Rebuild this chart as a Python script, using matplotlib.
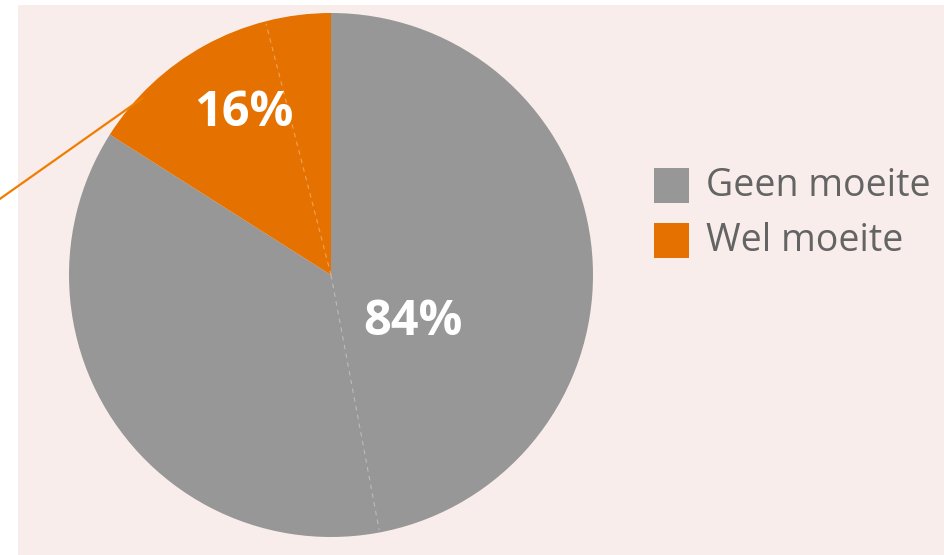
import matplotlib
matplotlib.use("Agg")
import matplotlib.pyplot as plt
from matplotlib.patches import Rectangle
import numpy as np

categories = ["Geen moeite", "Wel moeite"]
values = [84, 16]
labels = ["84%", "16%"]
colors = ["#979797", "#e57200"]

W, H = 945, 555
fig = plt.figure(figsize=(W / 100, H / 100), dpi=100)
fig.patch.set_facecolor("white")

# background panel
fig.add_artist(Rectangle((18 / W, 0), 1 - 18 / W, (H - 5) / H,
                         transform=fig.transFigure, facecolor="#f8edeb",
                         edgecolor="none", zorder=0))

cx, cy, r = 331, 275, 262
ax = fig.add_axes([(cx - r) / W, (H - cy - r) / H, 2 * r / W, 2 * r / H])
ax.patch.set_alpha(0)

wedges, _ = ax.pie(values, colors=colors, startangle=90, counterclock=False,
                   radius=1, center=(0, 0), frame=True,
                   wedgeprops=dict(linewidth=0))
ax.set_xlim(-1, 1)
ax.set_ylim(-1, 1)
ax.set_aspect("equal")
ax.axis("off")

# faint dashed seams
for ang in (104.5, 280.7):
    a = np.deg2rad(ang)
    ax.plot([0, 0.99 * np.cos(a)], [0, 0.99 * np.sin(a)], color="white",
            alpha=0.35, lw=0.8, ls=(0, (4, 4)))

# percentage labels
ax.text(0.313, -0.18, labels[0], color="white", fontsize=35,
        fontweight="bold", family="Open Sans", ha="center", va="center")
ax.text(-0.332, 0.618, labels[1], color="white", fontsize=35,
        fontweight="bold", family="Open Sans", ha="center", va="center")

# leader line
ax.plot([-0.718, -1.27], [0.676, 0.286], color="#f07d00", lw=1.6,
        clip_on=False, solid_capstyle="butt")

# legend
for i, (cat, col) in enumerate(zip(categories, colors)):
    top = 168 + i * 55
    fig.add_artist(Rectangle((654 / W, (H - top - 35) / H), 35 / W, 35 / H,
                             transform=fig.transFigure, facecolor=col,
                             edgecolor="none"))
    fig.text(706 / W, (H - top - 18) / H, cat, fontsize=27,
             family="Open Sans", color="#646464", ha="left", va="center")

fig.savefig("out.png", dpi=100, facecolor="white")
